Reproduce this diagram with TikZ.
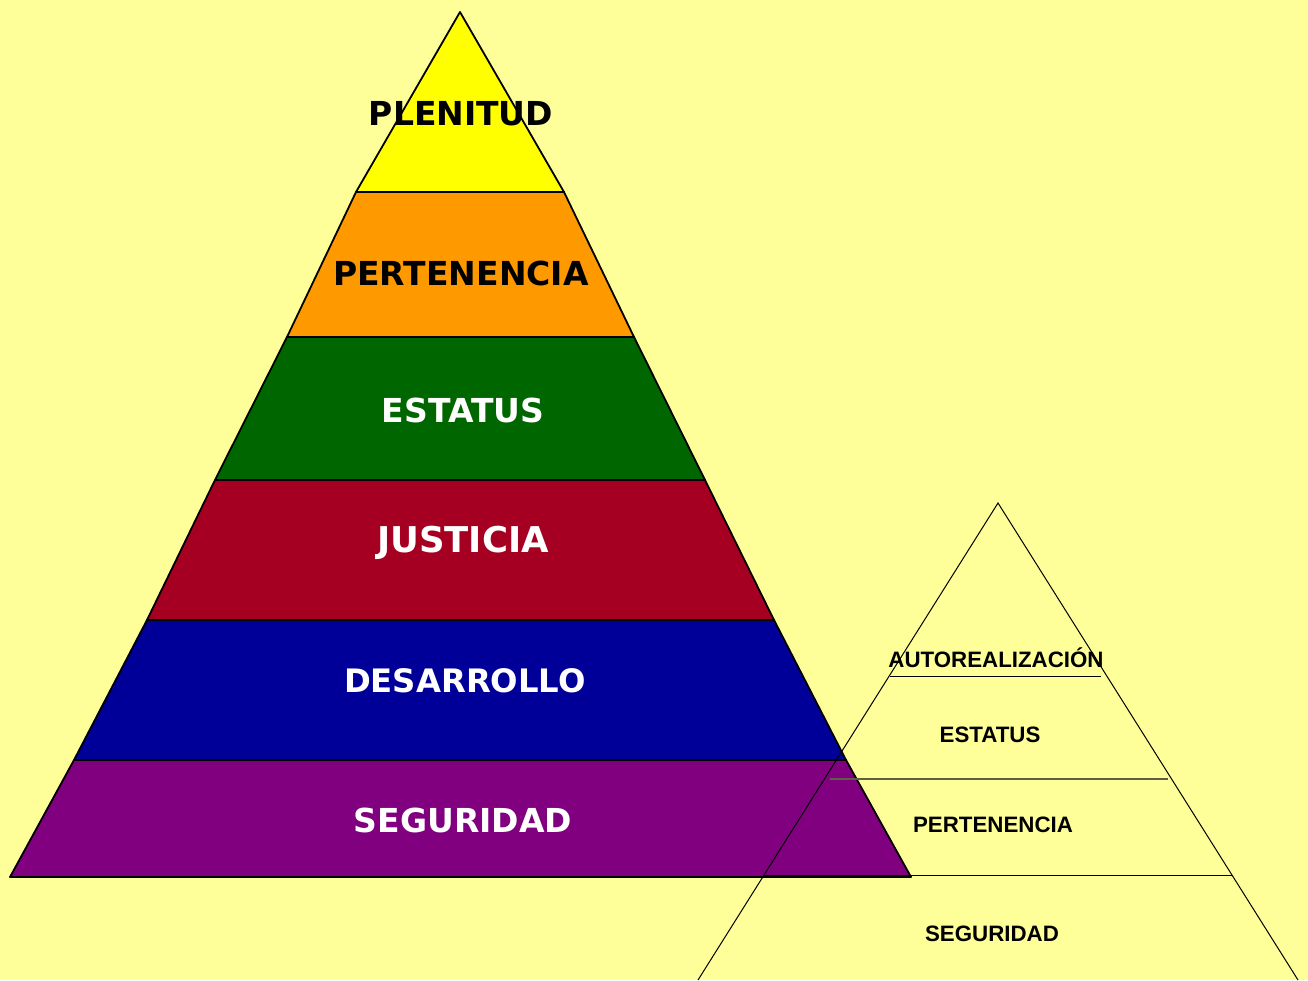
\documentclass[tikz,border=0pt]{standalone}
\usepackage{fontspec}
\newfontfamily\dvfont{DejaVu Sans}
\newfontfamily\arfont{Liberation Sans}
\definecolor{bgc}{HTML}{FFFF99}
\definecolor{cyel}{HTML}{FFFF00}
\definecolor{cora}{HTML}{FF9900}
\definecolor{cgre}{HTML}{006600}
\definecolor{cred}{HTML}{A50021}
\definecolor{cblu}{HTML}{000099}
\definecolor{cpur}{HTML}{800080}
\definecolor{cgray}{HTML}{5E5E48}
\tikzset{
  band/.style={draw=black, line width=1.8pt, line join=round},
  biglabel/.style={font=\dvfont\bfseries\fontsize{33}{38}\selectfont, inner sep=0pt, anchor=center},
  smallline/.style={draw=black, line width=1pt},
  smalllabel/.style={font=\arfont\bfseries\fontsize{22.3}{26}\selectfont, inner sep=0pt, anchor=center, text=black},
}
\begin{document}
\begin{tikzpicture}[x=1pt, y=-1pt]
\fill[bgc] (0,0) rectangle (1308,980);
\useasboundingbox (0,0) rectangle (1308,980);
% large pyramid bands
\path[band, fill=cyel] (460,12) -- (564,192) -- (356,192) -- cycle;
\path[band, fill=cora] (356,192) -- (564,192) -- (634,337) -- (287,337) -- cycle;
\path[band, fill=cgre] (287,337) -- (634,337) -- (705,480) -- (215,480) -- cycle;
\path[band, fill=cred] (215,480) -- (705,480) -- (774,620) -- (147,620) -- cycle;
\path[band, fill=cblu] (147,620) -- (774,620) -- (846,760) -- (74,760) -- cycle;
\path[band, fill=cpur] (74,760) -- (846,760) -- (911,877) -- (10,877) -- cycle;
% labels
\node[biglabel] (plen) at (461,114) {PLENITUD};
\node[biglabel] (pert) at (461,273) {PERTENENCIA};
\node[biglabel, text=white] (esta) at (463,410) {ESTATUS};
\node[biglabel, text=white, font=\dvfont\bfseries\fontsize{35.5}{40}\selectfont] (just) at (463,543) {JUSTICIA};
\node[biglabel, text=white, font=\dvfont\bfseries\fontsize{32.3}{38}\selectfont] (desa) at (465,681) {DESARROLLO};
\node[biglabel, text=white] (segu) at (463,820) {SEGURIDAD};
% small pyramid
\coordinate (sapex) at (998,503);
\coordinate (sbl) at (698,980);
\coordinate (sbr) at (1298,980);
\draw[smallline] (sbl) -- (sapex) -- (sbr);
\coordinate (l1a) at (890,676);
\coordinate (l1b) at (1101,676);
\coordinate (l2a) at (830,779);
\coordinate (l2b) at (1168,779);
\coordinate (l3a) at (764,875);
\coordinate (l3b) at (1233,875);
\draw[smallline] (l1a) -- (l1b);
\draw[smallline, draw=cgray, line width=1.3pt] (l2a) -- (l2b);
\draw[smallline] (l3a) -- (l3b);
\node[smalllabel] (sauto) at (996,658) {AUTOREALIZACIÓN};
\node[smalllabel] (sesta) at (990,735) {ESTATUS};
\node[smalllabel] (spert) at (993,825) {PERTENENCIA};
\node[smalllabel] (ssegu) at (992,934) {SEGURIDAD};
\end{tikzpicture}
\end{document}
